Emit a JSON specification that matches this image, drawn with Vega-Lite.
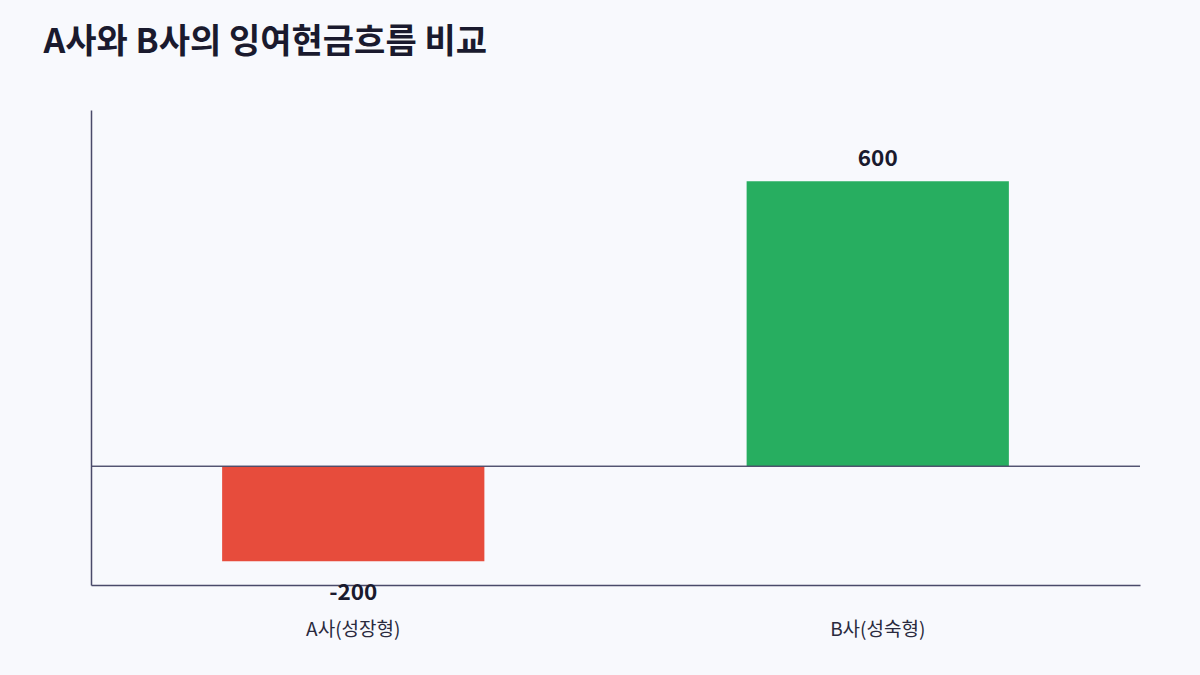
{
  "$schema": "https://vega.github.io/schema/vega-lite/v6.json",
  "width": 1049,
  "height": 475,
  "autosize": {"type": "none"},
  "padding": {"left": 91, "top": 110, "right": 60, "bottom": 90},
  "background": "#f8f9fd",
  "config": {
    "view": {"stroke": null},
    "font": "Noto Sans CJK KR"
  },
  "title": {
    "text": "A사와 B사의 잉여현금흐름 비교",
    "anchor": "start",
    "dx": -47,
    "offset": 50,
    "fontSize": 34,
    "fontWeight": "bold",
    "color": "#1a1a2e",
    "font": "Noto Sans CJK KR"
  },
  "data": {
    "values": [
      {"company": "A사(성장형)", "fcf": -200},
      {"company": "B사(성숙형)", "fcf": 600}
    ]
  },
  "encoding": {
    "x": {
      "field": "company",
      "type": "nominal",
      "sort": null,
      "scale": {"paddingInner": 0.5, "paddingOuter": 0.25},
      "axis": {
        "title": null,
        "labelAngle": 0,
        "ticks": false,
        "labelPadding": 35,
        "labelFontSize": 19,
        "labelColor": "#2a2a3e",
        "labelFont": "Noto Sans CJK KR",
        "domainColor": "#4a4a6a",
        "domainWidth": 1.5,
        "grid": false
      }
    }
  },
  "layer": [
    {
      "mark": {"type": "bar"},
      "encoding": {
        "y": {
          "field": "fcf",
          "type": "quantitative",
          "scale": {"domain": [-250, 750], "nice": false},
          "axis": {
            "title": null,
            "labels": false,
            "ticks": false,
            "grid": false,
            "domainColor": "#4a4a6a",
            "domainWidth": 1.5
          }
        },
        "color": {
          "field": "company",
          "type": "nominal",
          "scale": {"domain": ["A사(성장형)", "B사(성숙형)"], "range": ["#e74c3c", "#27ae60"]},
          "legend": null
        }
      }
    },
    {
      "mark": {"type": "rule", "color": "#4a4a6a", "strokeWidth": 1},
      "encoding": {
        "y": {"datum": 0, "type": "quantitative"},
        "x": {"value": 0},
        "x2": {"value": 1049}
      }
    },
    {
      "transform": [{"filter": "datum.fcf >= 0"}],
      "mark": {"type": "text", "dy": -22, "baseline": "middle", "fontSize": 22.5, "fontWeight": "bold", "color": "#1a1a2e"},
      "encoding": {
        "y": {"field": "fcf", "type": "quantitative"},
        "text": {"field": "fcf", "type": "nominal"}
      }
    },
    {
      "transform": [{"filter": "datum.fcf < 0"}],
      "mark": {"type": "text", "dy": 32, "baseline": "middle", "fontSize": 22.5, "fontWeight": "bold", "color": "#1a1a2e"},
      "encoding": {
        "y": {"field": "fcf", "type": "quantitative"},
        "text": {"field": "fcf", "type": "nominal"}
      }
    }
  ]
}
